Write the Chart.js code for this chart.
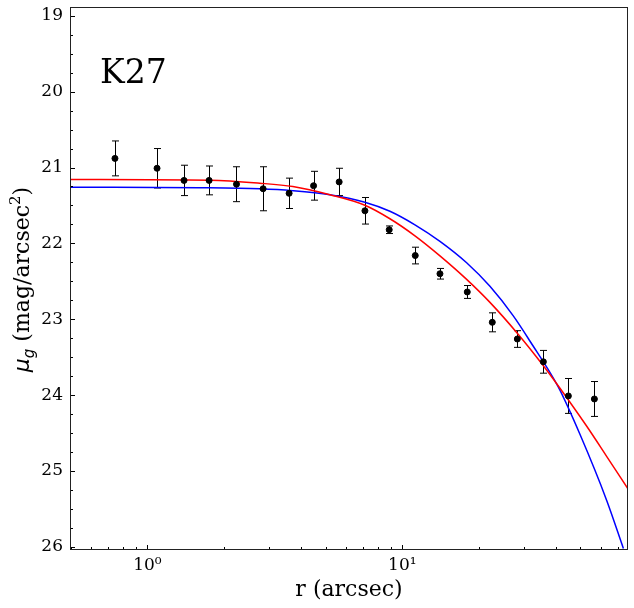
<!DOCTYPE html>
<html>
<head>
<meta charset="utf-8">
<script src="https://cdn.jsdelivr.net/npm/chart.js@4.4.0/dist/chart.umd.min.js"></script>
<style>
  html, body { margin: 0; padding: 0; background: #fff; }
  canvas { display: block; }
</style>
</head>
<body>
<canvas id="profileChart" width="634" height="608"></canvas>
<script>
// measured profile: radius (arcsec), surface brightness and its error
const radius = [0.746, 1.091, 1.392, 1.746, 2.236, 2.844, 3.597, 4.486, 5.653, 7.134, 8.884, 11.24, 14.05, 17.98, 22.54, 28.26, 35.75, 44.81, 56.69];
const mu = [20.88, 21.01, 21.17, 21.17, 21.22, 21.28, 21.34, 21.24, 21.19, 21.57, 21.82, 22.16, 22.40, 22.64, 23.04, 23.26, 23.56, 24.01, 24.05];
const muErr = [0.23, 0.26, 0.20, 0.19, 0.23, 0.29, 0.20, 0.19, 0.18, 0.175, 0.05, 0.11, 0.07, 0.085, 0.125, 0.11, 0.15, 0.23, 0.23];

// red model curve
const redR = [0.5, 1.76, 2.76, 3.72, 5.20, 7.13, 8.94, 11.21, 14.05, 17.88, 22.07, 28.36, 35.75, 40.94, 52.91, 63.41, 76.66];
const redMu = [21.159, 21.168, 21.207, 21.251, 21.359, 21.497, 21.675, 21.900, 22.164, 22.474, 22.777, 23.190, 23.612, 23.879, 24.410, 24.809, 25.231];

// blue model curve
const blueR = [0.5, 1.60, 2.76, 3.72, 5.20, 7.13, 8.94, 11.21, 14.05, 17.88, 22.07, 27.25, 31.70, 40.81, 49.80, 63.41, 73.67];
const blueMu = [21.26, 21.267, 21.281, 21.306, 21.359, 21.457, 21.576, 21.755, 21.973, 22.255, 22.566, 22.955, 23.289, 23.885, 24.519, 25.390, 26.02];

// axes
const xTicks = [1, 10];
const xTickLabels = ['10\u2070', '10\u00b9'];
const yTicks = [19, 20, 21, 22, 23, 24, 25, 26];
const xRange = [0.497, 76.8];
const yRange = [18.885, 26.04];

const serif = 'DejaVu Serif';

const profileExtras = {
    id: 'profileExtras',
    beforeDatasetsDraw(chart) {
        const {ctx, chartArea: area, scales: {x, y}} = chart;
        ctx.save();
        ctx.beginPath();
        ctx.rect(area.left, area.top, area.right - area.left, area.bottom - area.top);
        ctx.clip();
        // error bars
        ctx.strokeStyle = '#000';
        ctx.lineWidth = 1;
        radius.forEach((r, i) => {
            const px = Math.round(x.getPixelForValue(r)) + 0.5;
            const top = y.getPixelForValue(mu[i] - muErr[i]);
            const bot = y.getPixelForValue(mu[i] + muErr[i]);
            ctx.beginPath();
            ctx.moveTo(px, top);
            ctx.lineTo(px, bot);
            ctx.moveTo(px - 3.5, top);
            ctx.lineTo(px + 3.5, top);
            ctx.moveTo(px - 3.5, bot);
            ctx.lineTo(px + 3.5, bot);
            ctx.stroke();
        });
        ctx.restore();
    },
    afterDraw(chart) {
        const {ctx, chartArea: area, scales: {x, y}} = chart;
        ctx.save();
        ctx.strokeStyle = '#000';
        ctx.lineWidth = 1;

        // inward ticks, left axis
        ctx.beginPath();
        for (let v = 19; v <= 26.001; v += 0.25) {
            const py = Math.round(y.getPixelForValue(v)) + 0.5;
            const len = Math.abs(v - Math.round(v)) < 0.01 ? 5 : 3;
            ctx.moveTo(area.left, py);
            ctx.lineTo(area.left + len, py);
        }
        // inward ticks, bottom axis (log)
        for (let dec = 0.1; dec <= 10; dec *= 10) {
            for (let m = 1; m <= 9; m++) {
                const v = m * dec;
                if (v < xRange[0] || v > xRange[1]) continue;
                const px = Math.round(x.getPixelForValue(v)) + 0.5;
                const len = m === 1 ? 5 : 3;
                ctx.moveTo(px, area.bottom);
                ctx.lineTo(px, area.bottom - len);
            }
        }
        ctx.stroke();

        // frame
        ctx.strokeStyle = '#222';
        ctx.strokeRect(Math.round(area.left) + 0.5, Math.round(area.top) + 0.5,
            Math.round(area.right - area.left) - 1, Math.round(area.bottom - area.top) - 1);

        // label inside the plot
        ctx.fillStyle = '#000';
        ctx.font = '33px "' + serif + '"';
        ctx.textBaseline = 'alphabetic';
        ctx.textAlign = 'left';
        ctx.fillText('K27', 100, 83);

        // y title with sub/superscripts (math part in italic sans)
        const big = '22px "' + serif + '"';
        const small = '15px "' + serif + '"';
        const parts = [
            {t: '\u03bc', f: 'italic 22px "DejaVu Sans"', dy: 0},
            {t: 'g', f: 'italic 15px "DejaVu Sans"', dy: 5},
            {t: ' (mag/arcsec', f: big, dy: 0},
            {t: '2', f: small, dy: -9},
            {t: ')', f: big, dy: 0}
        ];
        let total = 0;
        parts.forEach(p => { ctx.font = p.f; p.w = ctx.measureText(p.t).width; total += p.w; });
        ctx.translate(29, (area.top + area.bottom) / 2 + 1);
        ctx.rotate(-Math.PI / 2);
        let cx = -total / 2;
        parts.forEach(p => {
            ctx.font = p.f;
            ctx.fillText(p.t, cx, p.dy);
            cx += p.w;
        });
        ctx.restore();
    }
};

new Chart(document.getElementById('profileChart'), {
    type: 'scatter',
    data: {
        datasets: [{
            label: 'data',
            data: radius.map((r, i) => ({x: r, y: mu[i]})),
            backgroundColor: '#000',
            borderColor: '#000',
            pointRadius: 3,
            order: 0
        }, {
            label: 'red model',
            type: 'line',
            data: redR.map((r, i) => ({x: r, y: redMu[i]})),
            borderColor: '#ff0000',
            borderWidth: 1.5,
            pointRadius: 0,
            cubicInterpolationMode: 'monotone',
            fill: false,
            order: 1
        }, {
            label: 'blue model',
            type: 'line',
            data: blueR.map((r, i) => ({x: r, y: blueMu[i]})),
            borderColor: '#0000ff',
            borderWidth: 1.5,
            pointRadius: 0,
            cubicInterpolationMode: 'monotone',
            fill: false,
            order: 2
        }]
    },
    options: {
        responsive: false,
        animation: false,
        devicePixelRatio: 1,
        layout: { padding: { top: 7, right: 6, left: 0, bottom: 0 } },
        plugins: {
            legend: { display: false },
            tooltip: { enabled: false }
        },
        scales: {
            x: {
                type: 'logarithmic',
                min: xRange[0],
                max: xRange[1],
                grid: { display: false, drawTicks: false },
                border: { display: false },
                afterBuildTicks: scale => { scale.ticks = xTicks.map(v => ({value: v})); },
                afterFit: scale => {
                    scale.height = 58;
                    scale.paddingLeft = 0;
                    scale.paddingRight = 0;
                },
                ticks: {
                    autoSkip: false,
                    maxRotation: 0,
                    padding: 5,
                    color: '#000',
                    font: { family: serif, size: 17 },
                    callback: value => xTickLabels[xTicks.indexOf(value)]
                },
                title: {
                    display: true,
                    text: 'r (arcsec)',
                    color: '#000',
                    font: { family: serif, size: 22 },
                    padding: { top: 0, bottom: 5 }
                }
            },
            y: {
                reverse: true,
                min: yRange[0],
                max: yRange[1],
                grid: { display: false, drawTicks: false },
                border: { display: false },
                afterBuildTicks: scale => { scale.ticks = yTicks.map(v => ({value: v})); },
                afterFit: scale => {
                    scale.width = 70;
                    scale.paddingTop = 0;
                    scale.paddingBottom = 0;
                },
                ticks: {
                    padding: 7,
                    color: '#000',
                    font: { family: serif, size: 17 }
                }
            }
        }
    },
    plugins: [profileExtras]
});
</script>
</body>
</html>
